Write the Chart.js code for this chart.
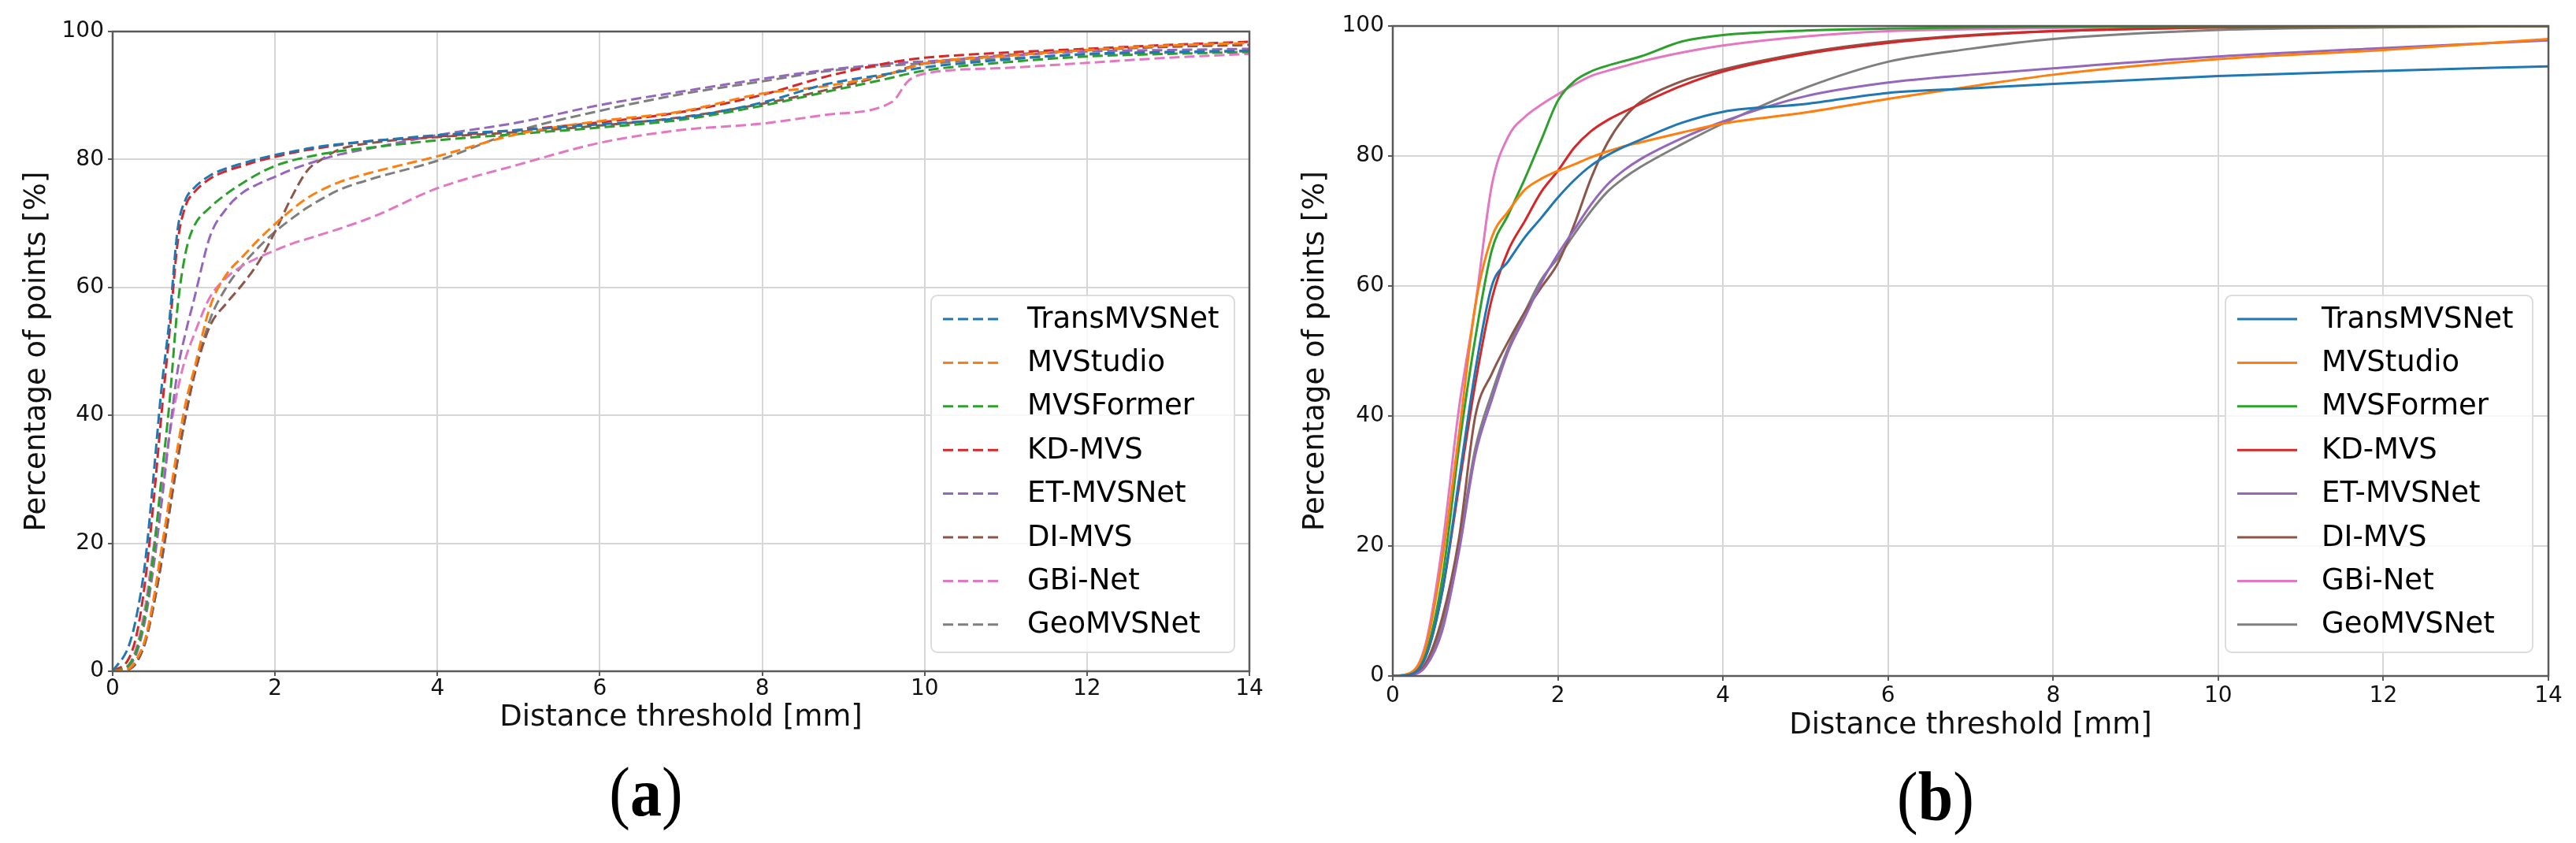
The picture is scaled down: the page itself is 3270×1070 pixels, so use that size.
<!DOCTYPE html>
<html>
<head>
<meta charset="utf-8">
<script src="https://cdn.jsdelivr.net/npm/chart.js@4.4.1/dist/chart.umd.min.js"></script>
<style>
  html, body { margin: 0; padding: 0; background: #fff; }
  body { width: 3270px; height: 1070px; position: relative; overflow: hidden; }
  canvas { position: absolute; top: 0; }
  #chartA { left: 0; width: 1610px; height: 960px; }
  #chartB { left: 1640px; width: 1630px; height: 960px; }
  .caption {
    position: absolute;
    font-family: "Liberation Serif", "DejaVu Serif", serif;
    font-size: 80px;
    line-height: 1;
    transform: translate(-50%, -50%) scaleY(1.1);
    white-space: nowrap;
  }
</style>
</head>
<body>
<canvas id="chartA" width="1610" height="960"></canvas>
<canvas id="chartB" width="1630" height="960"></canvas>
<div class="caption" style="left:820px; top:1005px;">(<b>a</b>)</div>
<div class="caption" style="left:2457px; top:1011px;">(<b>b</b>)</div>
<script>
const methods = ['TransMVSNet', 'MVStudio', 'MVSFormer', 'KD-MVS', 'ET-MVSNet', 'DI-MVS', 'GBi-Net', 'GeoMVSNet'];
const colors = ['#1f77b4', '#ff7f0e', '#2ca02c', '#d62728', '#9467bd', '#8c564b', '#e377c2', '#7f7f7f'];

const xTicks = [0, 2, 4, 6, 8, 10, 12, 14];
const yTicks = [0, 20, 40, 60, 80, 100];

// (a) dashed curves
const distA = [0, 0.2, 0.3, 0.4, 0.5, 0.6, 0.7, 0.8, 0.9, 1.0, 1.2, 1.4, 1.6, 1.8, 2.0, 2.2, 2.4, 2.6, 2.8, 3.2, 4, 5, 6, 7, 8, 8.8, 9.6, 9.8, 10, 11, 12, 13, 14];
const transA = [0, 4, 9, 17, 30, 44, 55, 69, 73.8, 75.5, 77.5, 78.6, 79.4, 80.1, 80.7, 81.2, 81.7, 82.1, 82.4, 82.9, 83.8, 84.6, 85.5, 86.5, 88.9, 91.8, 93.5, 94, 94.4, 95.6, 96.5, 96.8, 97.0];
const studioA = [0, 0.4, 2, 5, 11, 19, 27, 35, 42, 47, 57, 62, 64.8, 67.5, 69.9, 72.1, 74, 75.4, 76.5, 78, 80.5, 84, 86, 87.5, 90.3, 91.5, 93.5, 94.3, 95, 96.2, 97.1, 97.8, 98.2];
const formerA = [0, 1, 3.5, 9, 18, 30, 42, 57, 65.5, 69.5, 72.5, 74.6, 76.3, 77.8, 79, 79.8, 80.4, 80.9, 81.3, 81.9, 83, 84, 85, 86.2, 88.4, 90.6, 92.8, 93.4, 93.9, 95.2, 96.1, 96.5, 96.8];
const kdA = [0, 2, 6, 14, 26, 40, 53, 67, 72.8, 74.8, 77, 78.2, 79, 79.8, 80.4, 81, 81.5, 81.9, 82.3, 82.9, 83.6, 84.6, 85.8, 87.4, 90.1, 93, 95.2, 95.6, 95.9, 96.7, 97.3, 97.9, 98.4];
const etA = [0, 0.8, 3, 8, 16, 26, 37, 47, 53, 58, 68, 72.3, 74.8, 76.2, 77.3, 78.4, 79.3, 80.1, 80.8, 81.8, 83.8, 85.8, 88.5, 90.6, 92.6, 94, 95, 95.2, 95.3, 96.2, 96.9, 97.1, 97.3];
const diA = [0, 0.3, 1.5, 4.5, 10, 17, 25, 33, 40, 46, 54, 57.5, 60.5, 64, 68.7, 74, 78.3, 80.2, 81.6, 82.6, 83.5, 84.3, 85.3, 86.6, 88.7, 90.9, 93.5, 94.4, 95, 96.3, 97.1, 97.6, 97.9];
const gbiA = [0, 1, 4, 10, 19, 28, 37, 44, 49, 52.5, 58.5, 61.5, 63.4, 64.7, 65.8, 66.8, 67.6, 68.4, 69.2, 71, 75.5, 79.2, 82.6, 84.6, 85.6, 87, 89, 92.3, 93.4, 94.3, 95.1, 95.9, 96.5];
const geoA = [0, 0.3, 1.5, 4.5, 10, 17, 25, 33, 40, 46, 55, 60, 63.5, 66.3, 68.7, 70.7, 72.5, 74, 75.3, 77, 79.8, 84.5, 87.6, 90.2, 92.2, 93.8, 94.7, 94.9, 95, 95.8, 96.4, 96.7, 96.9];

// (b) solid curves
const distB = [0, 0.2, 0.4, 0.6, 0.8, 1.0, 1.2, 1.4, 1.6, 1.8, 2.0, 2.2, 2.4, 2.6, 2.8, 3.0, 3.5, 4, 5, 6, 7, 8, 10, 12, 14];
const transB = [0, 0.2, 3, 13, 30, 47, 60, 63.8, 67.5, 70.5, 73.6, 76.3, 78.5, 80.1, 81.4, 82.5, 85.1, 86.8, 88, 89.7, 90.4, 91.1, 92.3, 93.1, 93.8];
const studioB = [0, 0.4, 4.5, 18, 37, 57, 67.5, 71.5, 74.8, 76.5, 77.7, 78.7, 79.8, 80.7, 81.5, 82.1, 83.6, 85, 86.7, 88.8, 90.7, 92.5, 94.9, 96.3, 98];
const formerB = [0, 0.3, 3.5, 15, 35, 52, 65.5, 71, 76.5, 82.5, 88.5, 91.5, 93, 93.9, 94.6, 95.3, 97.6, 98.6, 99.3, 99.6, 99.8, 99.9, 100, 100, 100];
const kdB = [0, 0.2, 3, 13, 29, 45, 58, 65.5, 70, 74.5, 77.7, 81.3, 83.8, 85.5, 86.8, 88, 90.8, 93, 95.7, 97.4, 98.5, 99.2, 99.8, 100, 100];
const etB = [0, 0.1, 1.5, 7, 19, 34, 42.5, 50, 55.2, 60.5, 64.9, 68.7, 72.5, 75.6, 77.8, 79.5, 82.7, 85.3, 89.2, 91.3, 92.5, 93.5, 95.3, 96.6, 97.8];
const diB = [0, 0.1, 2, 9, 21, 40, 46.5, 51.5, 56, 59.8, 63.5, 69.5, 76.5, 82, 85.8, 88.3, 91.5, 93.3, 95.9, 97.6, 98.6, 99.2, 99.8, 100, 100];
const gbiB = [0, 0.3, 5, 20, 41, 57, 75.5, 83, 86, 87.9, 89.5, 91, 92.3, 93.1, 93.8, 94.5, 95.9, 97, 98.4, 99.2, 99.5, 99.7, 99.9, 100, 100];
const geoB = [0, 0.1, 1.8, 8, 20, 35, 43.5, 50.5, 56, 61, 64.3, 68, 71.5, 74.5, 76.6, 78.3, 81.8, 85, 90.5, 94.5, 96.5, 98, 99.4, 99.8, 100];

const seriesA = [transA, studioA, formerA, kdA, etA, diA, gbiA, geoA];
const seriesB = [transB, studioB, formerB, kdB, etB, diB, gbiB, geoB];

const tickFont = { family: 'DejaVu Sans', size: 28 };
const titleFont = { family: 'DejaVu Sans', size: 37 };
const gridColor = '#d6d6d6';
const spineColor = '#5a5a5a';

const frame = {
    id: 'frame',
    afterDatasetsDraw(chart) {
        const { ctx, chartArea: a } = chart;
        ctx.save();
        ctx.strokeStyle = spineColor;
        ctx.lineWidth = 2.5;
        ctx.strokeRect(a.left, a.top, a.right - a.left, a.bottom - a.top);
        ctx.restore();
    }
};

const boxLegend = {
    id: 'boxLegend',
    afterDraw(chart, args, opts) {
        const { ctx, chartArea } = chart;
        const x0 = chartArea.right - opts.right - opts.width;
        const y0 = chartArea.bottom - opts.bottom - opts.height;
        ctx.save();
        ctx.beginPath();
        ctx.roundRect(x0, y0, opts.width, opts.height, 8);
        ctx.fillStyle = 'rgba(255,255,255,0.8)';
        ctx.fill();
        ctx.strokeStyle = '#dcdcdc';
        ctx.lineWidth = 2;
        ctx.stroke();
        ctx.font = '37px "DejaVu Sans"';
        ctx.textBaseline = 'middle';
        chart.data.datasets.forEach((ds, i) => {
            const y = y0 + 30 + i * 55.4;
            ctx.beginPath();
            ctx.setLineDash(ds.borderDash || []);
            ctx.strokeStyle = ds.borderColor;
            ctx.lineWidth = ds.borderWidth;
            ctx.moveTo(x0 + 15, y);
            ctx.lineTo(x0 + 91, y);
            ctx.stroke();
            ctx.setLineDash([]);
            ctx.fillStyle = '#000';
            ctx.fillText(ds.label, x0 + 122, y + 1);
        });
        ctx.restore();
    }
};

function buildDatasets(dist, series, dash) {
    return series.map((vals, i) => ({
        label: methods[i],
        data: dist.map((x, j) => ({ x: x, y: vals[j] })),
        borderColor: colors[i],
        backgroundColor: colors[i],
        borderWidth: 3,
        borderDash: dash,
        pointRadius: 0,
        fill: false,
        cubicInterpolationMode: 'monotone'
    }));
}

function buildOptions(cfg) {
    return {
        responsive: false,
        animation: false,
        devicePixelRatio: 1,
        layout: { padding: { left: 0, top: cfg.top, right: cfg.right, bottom: 0 } },
        plugins: {
            legend: { display: false },
            tooltip: { enabled: false },
            boxLegend: cfg.legend
        },
        scales: {
            x: {
                type: 'linear',
                min: 0,
                max: 14,
                afterFit: s => { s.height = cfg.xHeight; },
                afterBuildTicks: s => { s.ticks = xTicks.map(v => ({ value: v })); },
                ticks: { font: tickFont, color: '#111', padding: cfg.xTickPad, maxRotation: 0 },
                grid: { color: gridColor, lineWidth: 2, tickLength: 6, tickColor: spineColor, tickWidth: 2 },
                border: { display: false },
                title: {
                    display: true,
                    text: 'Distance threshold [mm]',
                    font: titleFont,
                    color: '#111',
                    padding: { top: 0, bottom: cfg.xTitlePad }
                }
            },
            y: {
                min: 0,
                max: 100,
                afterFit: s => { s.width = cfg.yWidth; },
                afterBuildTicks: s => { s.ticks = yTicks.map(v => ({ value: v })); },
                ticks: { font: tickFont, color: '#111', padding: 5 },
                grid: { color: gridColor, lineWidth: 2, tickLength: 6, tickColor: spineColor, tickWidth: 2 },
                border: { display: false },
                title: {
                    display: true,
                    text: 'Percentage of points [%]',
                    font: titleFont,
                    color: '#111',
                    padding: { top: cfg.yTitlePad, bottom: 0 }
                }
            }
        }
    };
}

new Chart(document.getElementById('chartA').getContext('2d'), {
    type: 'line',
    data: { datasets: buildDatasets(distA, seriesA, [13, 6]) },
    options: buildOptions({
        top: 40, right: 24, xHeight: 108, yWidth: 143,
        xTickPad: 0, xTitlePad: 26, yTitlePad: 25,
        legend: { width: 385, height: 453, right: 19, bottom: 24 }
    }),
    plugins: [frame, boxLegend]
});

new Chart(document.getElementById('chartB').getContext('2d'), {
    type: 'line',
    data: { datasets: buildDatasets(distB, seriesB, []) },
    options: buildOptions({
        top: 33, right: 35, xHeight: 102, yWidth: 128,
        xTickPad: 3, xTitlePad: 16, yTitlePad: 8,
        legend: { width: 390, height: 453, right: 20, bottom: 30 }
    }),
    plugins: [frame, boxLegend]
});
</script>
</body>
</html>
